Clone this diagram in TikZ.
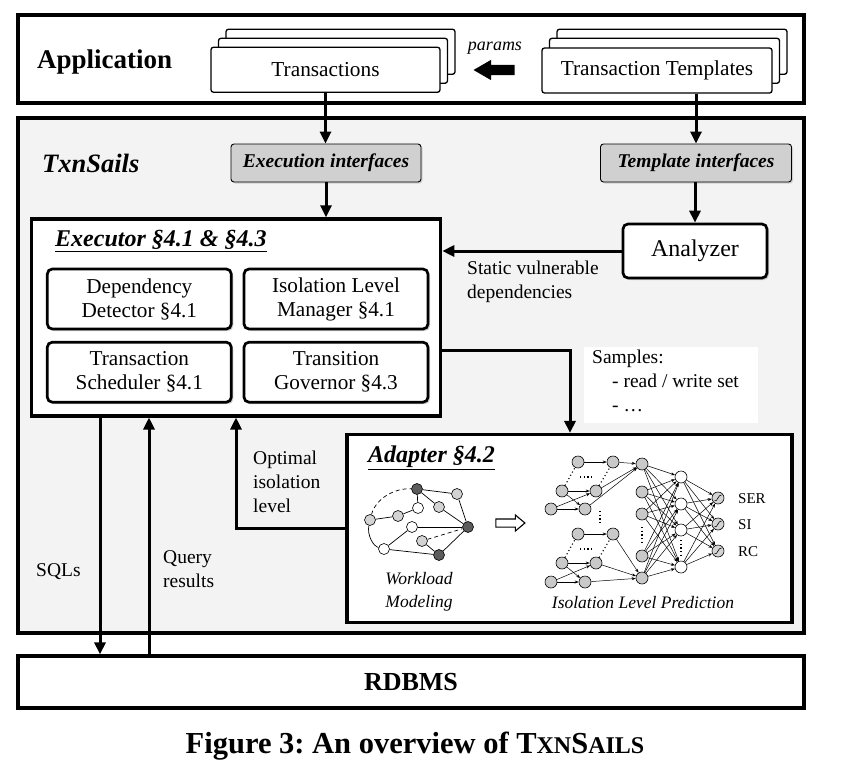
\documentclass[tikz,border=0pt]{standalone}
\usepackage{fontspec}
\setmainfont{Liberation Serif}
\usetikzlibrary{arrows.meta,shadows,shapes.arrows}
\definecolor{sailbg}{HTML}{F3F3F3}
\definecolor{ifgray}{HTML}{D0D0D0}
\definecolor{glight}{HTML}{D3D3D3}
\definecolor{gdark}{HTML}{5C5C5C}
\definecolor{nngray}{HTML}{C9C9C9}
\begin{document}
\begin{tikzpicture}[x=1pt,y=-1pt,
  bigbox/.style={draw, line width=3.2pt, inner sep=0pt},
  stackbox/.style={draw, line width=1.3pt, rounded corners=2.5pt, fill=white, minimum width=229pt, minimum height=45pt, inner sep=0pt},
  ifbox/.style={draw, line width=0.9pt, rounded corners=3pt, fill=ifgray, minimum width=190pt, minimum height=38pt, inner sep=0pt, font=\fontsize{19.5}{23}\selectfont\bfseries\itshape, drop shadow={opacity=0.3, shadow xshift=1.5pt, shadow yshift=-1.5pt}},
  modbox/.style={draw, line width=2.7pt, rounded corners=5pt, fill=white, minimum width=184pt, minimum height=60pt, inner sep=0pt, align=center, font=\fontsize{21.2}{24}\selectfont, drop shadow={opacity=0.35, shadow xshift=2pt, shadow yshift=-2pt}},
  arr/.style={line width=3pt, -{Triangle[length=12pt,width=11pt]}},
  lbl/.style={inner sep=0pt, align=left, anchor=west, font=\fontsize{19.5}{24}\selectfont},
  gnode/.style={circle, draw, line width=0.6pt, minimum size=11pt, inner sep=0pt},
  gedge/.style={line width=0.7pt},
  nnode/.style={circle, draw, line width=0.6pt, minimum size=12pt, inner sep=0pt, fill=nngray},
  onode/.style={circle, draw, line width=0.6pt, minimum size=12pt, inner sep=0pt, fill=glight,
    path picture={\draw[line width=0.6pt, shift={(path picture bounding box.center)}] (-3.5pt,-3pt) .. controls (0pt,-3.5pt) and (0pt,3.5pt) .. (3.5pt,3pt);}},
  nnarr/.style={line width=0.5pt, -{Stealth[length=4pt,width=3pt]}},
  dots/.style={line width=1.1pt, dash pattern=on 1.1pt off 2.6pt},
]
\useasboundingbox (0,0) rectangle (844,774);

% outer boxes
\node[bigbox, fill=sailbg, minimum width=786pt, minimum height=515pt] (sails) at (411,375.5) {};
\node[bigbox, fill=white, minimum width=786pt, minimum height=88pt] (app) at (411,59) {};
\node[bigbox, fill=white, minimum width=786pt, minimum height=52pt, font=\fontsize{26}{30}\selectfont\bfseries] (rdb) at (411,682) {RDBMS};

\node[anchor=west, inner sep=0pt, font=\fontsize{27}{30}\selectfont\bfseries] (applbl) at (37,62) {Application};

% stacks
\node[stackbox] (txb2) at (340.5,51.75) {};
\node[stackbox] (txb1) at (333,60.75) {};
\node[stackbox, font=\fontsize{21.3}{24}\selectfont] (tx) at (325.5,69.75) {Transactions};
\node[stackbox, minimum width=230pt] (ttb2) at (672,51.75) {};
\node[stackbox, minimum width=230pt] (ttb1) at (664.5,60.75) {};
\node[stackbox, minimum width=230pt, font=\fontsize{21.3}{24}\selectfont] (tt) at (657,70.5) {Transaction Templates};

\node[inner sep=0pt, font=\fontsize{18}{20}\selectfont\itshape] (plbl) at (495,48) {params};
\node[single arrow, fill=black, shape border rotate=180, minimum height=41pt, inner xsep=0pt, inner ysep=5pt, single arrow head extend=5pt, single arrow tip angle=60] (parr) at (498.5,70) {};

\node[anchor=west, inner sep=0pt, font=\fontsize{26.5}{30}\selectfont\bfseries\itshape] (slbl) at (42,163) {TxnSails};

% interfaces
\node[ifbox] (ei) at (326,163) {Execution interfaces};
\node[ifbox, minimum width=191pt] (ti) at (696,163) {Template interfaces};

% executor
\node[bigbox, fill=white, minimum width=409pt, minimum height=197pt] (exe) at (236.2,317.4) {};
\node[anchor=west, inner sep=0pt, font=\fontsize{24}{28}\selectfont\bfseries\itshape] (exelbl) at (55,241) {\underline{Executor §4.1 \& §4.3}};
\node[modbox] (dd) at (139.3,299) {Dependency\\Detector §4.1};
\node[modbox] (ilm) at (336,299) {Isolation Level\\Manager §4.1};
\node[modbox] (ts) at (139.3,372.2) {Transaction\\Scheduler §4.1};
\node[modbox] (tg) at (336,372.2) {Transition\\Governor §4.3};

% analyzer
\node[modbox, minimum width=144pt, minimum height=54pt, font=\fontsize{24}{28}\selectfont] (an) at (695,251) {Analyzer};

% adapter
\node[bigbox, fill=white, minimum width=445pt, minimum height=188pt] (ad) at (569.5,528.5) {};
\node[anchor=west, inner sep=0pt, font=\fontsize{24}{28}\selectfont\bfseries\itshape] (adlbl) at (368,458) {\underline{Adapter §4.2}};

% samples
\node[fill=white, anchor=north west, inner sep=0pt, minimum width=174pt, minimum height=76pt] (samp) at (584,347) {};
\node[lbl, anchor=north west] (samptxt) at (592,350) {Samples:\\\hspace*{20pt}- read / write set\\\hspace*{20pt}- …};

% labels
\node[lbl, anchor=north west] (stlbl) at (467,261) {Static vulnerable\\dependencies};
\node[lbl, anchor=north west] (oplbl) at (253,451) {Optimal\\isolation\\level};
\node[lbl] (sqlbl) at (36,572) {SQLs};
\node[lbl, anchor=north west] (qrlbl) at (163,550) {Query\\results};

% workload graph
\node[gnode, fill=gdark] (g1) at (417,489) {};
\node[gnode, fill=glight] (g2) at (457,494) {};
\node[gnode, fill=white] (g3) at (418,508) {};
\node[gnode, fill=glight] (g4) at (439,507) {};
\node[gnode, fill=glight] (g5) at (398,516) {};
\node[gnode, fill=glight] (g6) at (370,520) {};
\node[gnode, fill=white] (g7) at (412,527) {};
\node[gnode, fill=gdark] (g8) at (468,527) {};
\node[gnode, fill=glight] (g9) at (422,541) {};
\node[gnode, fill=white] (g10) at (384,549) {};
\node[gnode, fill=gdark] (g11) at (439,555) {};
\draw[gedge, dash pattern=on 4pt off 3pt] (g6) .. controls (376,498) and (395,488) .. (g1);
\draw[gedge] (g6) .. controls (367,535) and (373,546) .. (g10);
\foreach \p/\q in {g1/g2, g1/g3, g1/g4, g4/g8, g2/g8, g3/g5, g5/g6, g7/g8, g7/g10, g10/g11, g11/g8, g9/g11}
  \draw[gedge] (\p) -- (\q);
\draw[gedge, dash pattern=on 4pt off 3pt] (g9) -- (g8);

\node[single arrow, draw, line width=1.1pt, fill=white, minimum height=29pt, inner xsep=0pt, inner ysep=3.5pt, single arrow head extend=4pt, single arrow tip angle=80] (hol) at (508,523) {};

% neural net
\foreach \n/\x/\y in {a1/578/462, a2/613/462, b1/562/491, b2/596/491, c1/551/509, c2/585/509, d1/578/534, d2/613/534, e1/562/563, e2/596/563, f1/551/582, f2/585/582}
  \node[nnode] (\n) at (\x,\y) {};
\foreach \n/\y in {h1/464, h2/492, h3/514, h4/556, h5/578}
  \node[nnode] (\n) at (642,\y) {};
\foreach \n/\y in {k1/477, k2/504, k3/530, k4/567}
  \node[nnode, fill=white] (\n) at (681,\y) {};
\foreach \n/\y in {o1/498, o2/524, o3/551}
  \node[onode] (\n) at (718,\y) {};
\foreach \p/\q in {a1/a2, b1/b2, c1/c2, b1/c2, c1/b2, d1/d2, e1/e2, f1/f2, e1/f2, f1/e2, a2/h1, b2/h1, c2/h1, d2/h5, e2/h5, f2/h5}
  \draw[nnarr] (\p) -- (\q);
\foreach \i in {1,...,5} \foreach \j in {1,...,4} \draw[nnarr] (h\i) -- (k\j);
\foreach \j in {1,...,4} \foreach \k in {1,2,3} \draw[nnarr] (k\j) -- (o\k);
\draw[dots] (b1) -- (a1);
\draw[dots] (b2) -- (a2);
\draw[dots] (e1) -- (d1);
\draw[dots] (e2) -- (d2);
\draw[dots] (580,477) -- (594,477);
\draw[dots] (580,549) -- (594,549);
\draw[dots] (600,511) -- (600,524);
\draw[dots] (642,527) -- (642,545);
\draw[dots] (681,540) -- (681,556);
\node[anchor=west, inner sep=0pt, font=\fontsize{15}{18}\selectfont] (ser) at (738,499) {SER};
\node[anchor=west, inner sep=0pt, font=\fontsize{15}{18}\selectfont] (si) at (738,525) {SI};
\node[anchor=west, inner sep=0pt, font=\fontsize{15}{18}\selectfont] (rc) at (738,552) {RC};

\node[align=center, inner sep=0pt, font=\fontsize{17.5}{23}\selectfont\itshape] (wm) at (419,592) {Workload\\Modeling};
\node[inner sep=0pt, font=\fontsize{17.5}{23}\selectfont\itshape] (ilp) at (643,603) {Isolation Level Prediction};

% connectors
\draw[arr] (tx.south) -- (tx.south |- ei.north);
\draw[arr] (tt.south -| ti.north) -- (ti.north);
\draw[arr] (ei.south) -- (ei.south |- exe.north);
\draw[arr] (ti.south -| an.north) -- (an.north);
\draw[arr] (an.west) -- (an.west -| exe.east);
\coordinate (sx) at (570,350);
\draw[arr] (sx -| exe.east) -- (sx) -- (sx |- ad.north);
\coordinate (ox) at (236,528);
\draw[arr] (ox -| ad.west) -- (ox) -- (ox |- exe.south);
\coordinate (sq) at (100,0);
\coordinate (qr) at (149,0);
\draw[arr] (sq |- exe.south) -- (sq |- rdb.north);
\draw[arr] (qr |- rdb.north) -- (qr |- exe.south);

% caption
\node[inner sep=0pt, font=\fontsize{30.5}{34}\selectfont\bfseries\frenchspacing] (cap) at (415,746) {Figure 3: An overview of T{\fontsize{24}{28}\selectfont XN}S{\fontsize{24}{28}\selectfont AILS}};
\end{tikzpicture}
\end{document}
